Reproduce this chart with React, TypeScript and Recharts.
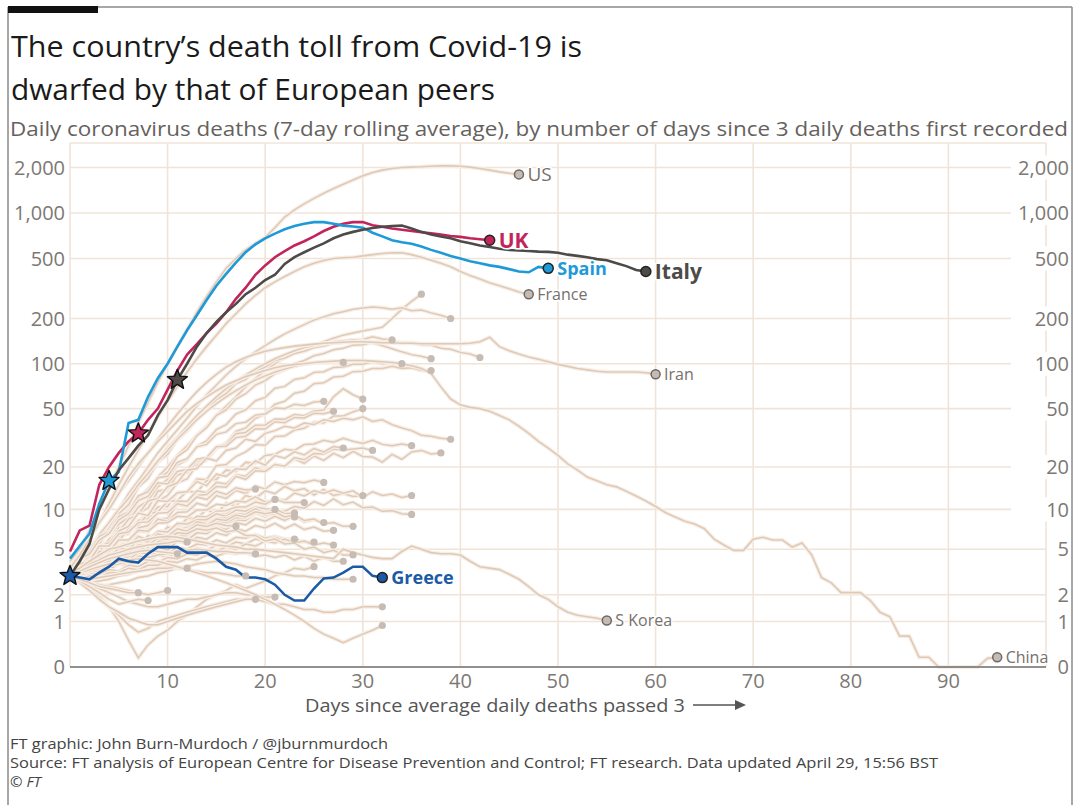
import React from 'react'
import { ComposedChart, Line, XAxis, YAxis, CartesianGrid } from 'recharts'

const W = 1074
const H = 805
const FONT = '"Open Sans", Lato, sans-serif'

const xTicks = [10, 20, 30, 40, 50, 60, 70, 80, 90]
const yTickValues = [0, 1, 2, 5, 10, 20, 50, 100, 200, 500, 1000, 2000]
const yTickLabels = ['0', '1', '2', '5', '10', '20', '50', '100', '200', '500', '1,000', '2,000']

// daily 7-day average deaths, index = days since average passed 3
const uk = [4.8, 7, 7.6, 15, 20, 25, 30, 34, 42, 50, 67, 90, 115, 135, 160, 185, 220, 270, 320, 390, 450, 510, 560, 610, 650, 700, 760, 810, 850, 870, 870, 830, 810, 790, 775, 760, 745, 735, 720, 705, 695, 680, 670, 660]
const spain = [4.2, 5.3, 6.6, 11, 16, 18.5, 40, 42, 60, 80, 100, 130, 167, 210, 265, 330, 395, 470, 550, 620, 680, 730, 780, 820, 850, 870, 870, 850, 825, 815, 800, 740, 700, 660, 640, 625, 600, 570, 545, 520, 500, 480, 465, 450, 440, 425, 410, 405, 440, 430]
const italy = [3, 4, 5.5, 10, 14, 19, 23, 28, 33, 45, 57, 78, 100, 130, 160, 190, 220, 250, 290, 320, 360, 390, 460, 510, 550, 590, 630, 680, 720, 750, 775, 795, 810, 820, 825, 790, 750, 720, 700, 680, 650, 630, 610, 595, 580, 570, 565, 560, 555, 553, 545, 530, 520, 510, 495, 487, 465, 445, 420, 410]
const greece = [3, 2.9, 2.8, 3.2, 3.6, 4.2, 4, 3.9, 4.6, 5.2, 5.2, 5.2, 4.7, 4.7, 4.7, 4.2, 3.6, 3.4, 2.9, 2.9, 2.8, 2.5, 2, 1.75, 1.75, 2.3, 2.85, 2.9, 3.2, 3.6, 3.6, 3, 2.9]

const us = [3.5, 5, 7, 10, 14, 20, 28, 40, 55, 75, 100, 130, 170, 220, 280, 350, 430, 500, 570, 630, 690, 800, 940, 1050, 1150, 1250, 1350, 1450, 1550, 1650, 1760, 1850, 1920, 1970, 2000, 2010, 2020, 2040, 2050, 2050, 2040, 2010, 1970, 1920, 1870, 1830, 1800]
const france = [3.5, 4.5, 6, 8, 11, 15, 20, 26, 34, 44, 56, 70, 88, 108, 130, 155, 185, 215, 250, 285, 320, 350, 380, 410, 440, 465, 485, 500, 505, 510, 520, 530, 540, 545, 545, 530, 510, 487, 465, 440, 410, 385, 365, 345, 330, 315, 300, 290]
const iran = [4, 5, 6, 8, 10, 13, 16, 20, 25, 31, 38, 46, 55, 65, 75, 85, 95, 103, 110, 116, 121, 125, 128, 131, 133, 135, 137, 138, 139, 140, 140, 139, 138, 138, 137, 137, 136, 136, 136, 136, 136, 137, 140, 150, 130, 122, 116, 111, 107, 103, 99, 96, 93, 91, 89, 88, 88, 88, 88, 87, 85]
const sKorea = [3.2, 3.5, 4, 4.5, 5, 5.2, 5.5, 5.8, 6, 6.2, 6.3, 6.2, 6, 5.8, 5.6, 5.4, 5.3, 5.2, 5, 5, 4.9, 4.8, 4.7, 4.6, 4.5, 4.4, 4.3, 4.2, 5, 4.7, 4.5, 4.3, 4.2, 4.2, 4.8, 5.3, 5, 4.7, 4.6, 4.6, 4.5, 4, 3.6, 3.5, 3.4, 3.1, 2.8, 2.4, 2, 1.8, 1.5, 1.3, 1.2, 1.15, 1.1, 1.03]
const china = [3.5, 4.5, 6, 8, 10, 13, 17, 21, 25, 30, 35, 41, 48, 54, 60, 66, 72, 77, 82, 86, 90, 94, 97, 99, 100, 102, 103, 104, 105, 105, 105, 104, 103, 102, 100, 97, 93, 86, 70, 58, 53, 51, 50, 48, 45, 42, 38, 34, 30, 27, 24, 21, 19, 17, 16, 15, 14.5, 13.5, 12.5, 11.5, 10.5, 9.5, 8.8, 8.2, 7.8, 7.2, 6, 5.4, 4.9, 4.9, 6, 6.2, 5.9, 5.9, 5.2, 5.6, 4.5, 2.9, 2.6, 2.1, 2.1, 2.1, 1.75, 1.3, 1.15, 0.6, 0.6, 0.16, 0.16, 0, 0, 0, 0, 0, 0.14, 0.16]

// unlabelled countries
const other01 = [3, 3.5, 4.5, 5.5, 7, 8, 10, 12, 14, 17, 20, 24, 28, 33, 38, 45, 52, 60, 70, 80, 90, 100, 110, 118, 125, 132, 140, 148, 155, 160, 165, 170, 175, 200, 230, 260, 290]
const other02 = [3, 4, 5, 6.5, 8, 10, 13, 16, 20, 25, 30, 36, 43, 52, 62, 72, 84, 96, 108, 120, 132, 145, 158, 170, 182, 195, 205, 215, 222, 230, 235, 238, 236, 230, 236, 225, 228, 218, 210, 200]
const other03 = [3, 3.6, 4.4, 6.2, 7.3, 9.3, 10.8, 14.4, 16.6, 21.6, 24.5, 30.8, 35.2, 43, 48, 57.5, 63, 73.5, 78.5, 89.5, 95, 105, 109, 117, 121, 128, 131, 137, 139, 144, 145, 151, 146, 144]
const other04 = [3, 4, 5, 6, 8, 10, 12, 15, 18, 22, 27, 32, 38, 45, 52, 60, 68, 76, 84, 92, 100, 108, 115, 122, 128, 132, 136, 140, 142, 144, 142, 138, 132, 126, 120, 115, 112, 108]
const other05 = [3, 3.6, 3.9, 5.2, 5.8, 7.8, 8.7, 11.4, 12.6, 16.5, 18.4, 23.6, 26.3, 32.8, 37.2, 45, 49, 58, 63, 72, 77, 86, 91, 100, 105, 113, 117, 124, 127, 133, 134, 139, 139, 141, 138, 138, 134, 133, 127, 125, 119, 116, 110]
const other06 = [3, 4, 5, 6.5, 8, 10, 12, 15, 18, 22, 26, 31, 36, 42, 48, 54, 60, 66, 72, 78, 83, 88, 92, 96, 99, 101, 103, 103, 102]
const other07 = [3, 3.6, 3.9, 5.2, 5.8, 7.2, 8.2, 10.4, 11.6, 14.5, 16.4, 20.6, 22.4, 27.8, 30.2, 36, 39, 46, 49, 56.5, 59.5, 68.5, 70.5, 78.5, 80.5, 87.5, 88.5, 94.5, 95, 99, 99, 103, 100, 101, 100]
const other08 = [3, 3.6, 3.9, 4.7, 4.8, 6.2, 6.8, 8.3, 9.2, 11.4, 12.6, 15.5, 16.5, 20.6, 22.4, 26.8, 29.2, 35, 37, 43, 46, 53.5, 56, 63.5, 65.5, 73.5, 74.5, 81.5, 82.5, 88.5, 89, 93, 93, 96, 93, 94, 90, 90]
const other09 = [3, 4.2, 4.8, 6.3, 6.8, 8.9, 9.6, 12.5, 13.4, 16.8, 17.2, 21.5, 22.8, 27.5, 28.6, 33.5, 34.8, 39.6, 40.5, 45.2, 46, 50.5, 50, 53.5, 52.5, 55.4, 56]
const other10 = [3, 3.6, 3.9, 5.2, 5.6, 7.3, 7.6, 9.4, 10.2, 13.5, 14, 17.6, 18.2, 21.8, 23, 27.5, 28.6, 33.8, 34.5, 38.6, 38.8, 42.5, 42.4, 45.6, 44.8, 48.2, 49, 60, 68, 62, 58]
const other11 = [3, 3.6, 3.8, 4.7, 5.2, 6.3, 6.6, 8.3, 8.6, 10.4, 10.5, 13.2, 13.4, 16.5, 16.3, 20.4, 20.8, 23.6, 25.4, 28.5, 28.2, 32.4, 32.6, 35.8, 36.8, 40.5, 40, 44.5, 44.6, 47.5, 50]
const other12 = [3, 4.2, 4.6, 5.9, 6.6, 8.4, 9.3, 11.6, 12.4, 15.5, 15.2, 18.6, 19.2, 22.6, 23.2, 27.6, 27.8, 31.8, 32.5, 36.6, 36.4, 40.8, 40.2, 43.6, 43.2, 46.5, 46.2, 48]
const other13 = [3, 3.5, 4.2, 4.8, 6, 6.8, 8.5, 9.2, 11.5, 12, 14.5, 15.5, 19, 19.5, 23, 22, 26, 27, 31, 30, 34, 35.5, 38, 37, 40, 39, 42, 41, 43, 42, 44, 41, 42, 39, 37, 35.5, 33, 32.5, 31.5, 31]
const other14 = [3, 3.2, 4.1, 4.4, 5.3, 5.8, 7.2, 7.6, 9.3, 9.6, 11.4, 11.6, 13.5, 13.3, 16, 16.4, 19, 18.6, 21.5, 21.2, 24, 24.5, 26.5, 26, 28.5, 28.8, 30.5, 29.6, 31.5, 30, 29, 30.5, 28.6, 28, 28.8, 28]
const other15 = [3, 3.6, 3.8, 4.7, 4.8, 5.8, 5.7, 7.3, 7.6, 9.4, 9.5, 11.5, 11.4, 13.6, 13.2, 15.6, 15.2, 17.6, 17.2, 19.8, 18.6, 20.8, 20.2, 22.8, 21.2, 23.8, 22.2, 24.8, 23.2, 25.6, 23.6, 23.4, 21.6, 24.4, 22.6, 25.4, 26, 24.6, 25]
const other16 = [3, 3.1, 3.4, 4.2, 4.3, 5.3, 5.7, 6.9, 7.1, 8.5, 8.6, 10.9, 10.5, 12.6, 12.8, 14.6, 14.4, 17.2, 16.4, 18.8, 18.6, 20.8, 20.2, 23.2, 22.4, 24.8, 24.6, 26.6, 26.2, 26.6, 27, 26]
const other17 = [3, 3.7, 3.8, 5.3, 5.6, 6.9, 7.5, 9.4, 9, 11.6, 11.4, 13.2, 13.4, 15.8, 14.8, 17.8, 17.2, 19.4, 19.2, 22, 20.6, 24, 23, 25.4, 24.2, 26.8, 25.4, 27.6, 27]
const other18 = [3, 3.7, 3.8, 4.8, 4.7, 5.9, 5.7, 6.9, 6.8, 8.5, 8.2, 9.5, 9.6, 11.1, 10.6, 12.6, 12, 13.7, 13, 14.7, 14, 15.7, 15, 15.8, 15.5, 16.2, 15.6]
const other19 = [3, 2.9, 3.7, 3.8, 4.3, 4.3, 5.3, 5.2, 6.4, 6.2, 7.4, 7.2, 8.6, 8.6, 10, 9.2, 11.1, 10.6, 12.6, 12, 13.6, 13, 14.6, 13.6, 14.1, 12.7, 13.9, 12.6, 13, 12.4, 12.6]
const other20 = [3, 3.2, 3.4, 3.8, 3.9, 4.7, 4.8, 5.3, 5.4, 6.3, 6.3, 7.3, 7.3, 8.4, 8.2, 9.4, 9.2, 10.5, 10.1, 11.5, 10.7, 12, 11.6, 13.1, 12.5, 13.6, 13.1, 13.8, 13.1, 13.6, 12.2, 13.4, 12.6, 12.9, 12.2, 12.6]
const other21 = [3, 3.1, 3.4, 3.7, 3.9, 4.2, 4.4, 5.2, 4.9, 5.8, 5.8, 6.3, 6.4, 7.3, 6.9, 7.8, 7.8, 8.4, 8.3, 9.4, 8.8, 9.9, 9.7, 10.5, 10.2, 11.4, 10.7, 11.9, 10.8, 11.3, 10.3, 10.4, 9.7, 9.8, 9.3, 9.2]
const other22 = [3, 3.7, 3.9, 4.8, 4.8, 5.9, 5.9, 7, 6.9, 7.9, 8, 8.9, 8.8, 9.9, 9.9, 10.9, 10.7, 11.5, 11.3, 12.3, 11.3, 11.8]
const other23 = [3, 3.3, 3.4, 4.2, 4.3, 5.2, 5, 5.9, 5.8, 6.8, 6.9, 7.7, 7.8, 8.9, 8.8, 9.7, 9.8, 10.4, 10.4, 11.3, 10.9, 11.9, 11.2, 11.2, 11.2]
const other24 = [3, 3.6, 3.7, 4.4, 4.4, 5.3, 5.2, 6.3, 5.9, 6.9, 6.8, 7.9, 7.8, 8.4, 8.4, 9.3, 8.9, 9.9, 9.7, 10.4, 10.1, 10]
const other25 = [3, 3.4, 3.5, 4.2, 4.2, 5, 4.9, 5.8, 5.6, 6.5, 6.3, 7.3, 7, 8.1, 7.8, 8.6, 8.6, 9.3, 9.2, 10.1, 9.4, 10.1, 9.3, 9.4]
const other26 = [3, 3.8, 4, 5.3, 5.3, 6.6, 6.8, 8, 8.1, 9.4, 9.5, 11, 10.6, 12.3, 11.8, 13.5, 12.8, 14.3, 13.8, 14]
const other27 = [3, 3.5, 3.4, 4.1, 4.1, 4.6, 4.6, 5.5, 5.2, 6.2, 6, 6.8, 6.8, 7.4, 7.3, 8.3, 8, 8.7, 8.7, 9.4, 9.1, 9.3, 9, 8.8]
const other28 = [3, 3.2, 3.3, 3.8, 3.8, 4.4, 4.3, 4.9, 4.8, 5.5, 5.3, 6.2, 5.9, 6.7, 6.6, 7.4, 7.1, 8, 7.7, 8.6, 8.2, 8.9, 8.3, 9, 8.1, 8.4, 8]
const other29 = [3, 3.4, 3.2, 3.8, 3.7, 4.2, 4.1, 4.7, 4.6, 5.3, 4.9, 5.8, 5.5, 6.2, 6, 6.7, 6.4, 7.2, 6.9, 7.6, 7.3, 7.9, 7.2, 7.8, 7.1, 7.4, 6.9, 7]
const other30 = [3, 3.5, 3.6, 4.2, 4.3, 4.8, 4.9, 5.6, 5.5, 6.3, 6.2, 6.9, 6.8, 7.6, 7.6, 8.5, 8.3, 9.1, 8.8, 9.6, 9.3, 9.6, 8.8, 9.1, 8.3, 8.5, 7.8, 8, 7.5, 7.5]
const other31 = [3, 3.6, 3.6, 4.3, 4.3, 5.1, 5, 5.9, 5.7, 6.6, 6.3, 7.2, 6.9, 7.7, 7.5, 7.9, 7.6, 7.5]
const other32 = [3, 3.2, 3.2, 3.7, 3.5, 4.1, 3.9, 4.4, 4.3, 4.8, 4.6, 5.2, 5, 5.5, 5.4, 5.9, 5.6, 6.2, 6.1, 6.5, 6.1, 6.3, 6, 6]
const other33 = [3, 3.1, 3.1, 3.4, 3.4, 3.8, 3.7, 4.2, 4, 4.5, 4.3, 4.8, 4.6, 5.1, 4.9, 5.4, 5.2, 5.7, 5.5, 6, 5.8, 6.2, 5.8, 6, 5.7, 5.7]
const other34 = [3, 2.8, 3.1, 3.1, 3.4, 3.3, 3.7, 3.6, 4, 3.9, 4.3, 4.2, 4.6, 4.5, 4.9, 4.8, 5.2, 5, 5.5, 5.3, 5.8, 5.6, 6, 5.6, 5.8, 5.4, 5.6, 5.4]
const other35 = [3, 3.3, 3.4, 3.9, 4, 4.7, 4.7, 5.4, 5.4, 6.1, 6, 6.7, 6.6, 7.2, 7, 7.3, 6.8, 7, 6.4, 6.4, 5.8, 6, 5.5, 5.6, 5, 5.2, 4.7, 4.9, 4.5, 4.5]
const other36 = [3, 2.8, 3, 2.9, 3.2, 3.2, 3.5, 3.4, 3.7, 3.7, 4, 3.9, 4.2, 4.1, 4.5, 4.4, 4.7, 4.6, 4.7, 4.4, 4.5, 4.3, 4.5, 4.1, 4.4, 4, 4.3, 4, 4]
const other37 = [3, 3.4, 3.8, 4.1, 4.5, 4.7, 5, 5.2, 5.4, 5.5, 5.6, 5.8, 5.7]
const other38 = [3, 3.2, 3.3, 3.5, 3.7, 3.8, 4, 4.1, 4.3, 4.5, 4.6, 4.8, 4.9, 5, 4.9, 4.8, 4.8, 4.7, 4.7, 4.6]
const other39 = [3, 2.8, 2.5, 2, 1.5, 1, 0.5, 0.15, 0.4, 0.6, 0.75, 1, 1.2, 1.5, 1.8, 2, 2.2, 2.5, 2.3, 2.5, 2.7, 3, 3.2, 3.5, 3.4, 3.6]
const other40 = [3, 2.7, 2.5, 2.4, 2.5, 2.6, 2.7, 2.9, 3, 3.2, 3.3, 3.5, 3.6, 3.8, 3.9, 4, 3.9, 3.8, 3.6, 3.5, 3.4, 3.2, 3.1, 3, 3, 2.9, 2.9, 2.8, 2.8, 2.8]
const other41 = [3, 2.8, 2.6, 2.7, 2.8, 3, 3.1, 3.3, 3.4, 3.5, 3.6, 3.5, 3.4, 3.3, 3.2, 3.2, 3.1, 3, 3]
const other42 = [3, 2.9, 2.8, 2.9, 3, 3.1, 3.2, 3.3, 3.4, 3.5, 3.5, 3.6, 3.5]
const other43 = [3, 2.8, 2.6, 2.5, 2.4, 2.3, 2.2, 2.1, 2, 2.1, 2.2]
const other44 = [3, 2.7, 2.3, 1.9, 1.5, 1.2, 0.9, 0.7, 0.8, 1, 1.1, 1.2, 1.3, 1.4, 1.5, 1.6, 1.7, 1.8, 1.8, 1.8]
const other45 = [3, 2.8, 2.5, 2.3, 2.1, 1.9, 1.7, 1.6, 1.5, 1.5, 1.6, 1.7, 1.8, 1.8, 1.9, 2, 2.1, 2.1, 2, 2, 1.9, 1.9]
const other46 = [3, 2.6, 2.2, 1.8, 1.5, 1.3, 1.1, 1, 0.9, 0.9, 1, 1.1, 1.2, 1.3, 1.4, 1.5, 1.6, 1.7, 1.8, 1.8, 1.7, 1.6, 1.6, 1.5, 1.4, 1.4, 1.3, 1.3, 1.4, 1.4, 1.5, 1.5, 1.5]
const other47 = [3, 3.2, 3.4, 3.6, 3.8, 4, 4.1, 4.2, 4.1, 4, 3.8, 3.6, 3.4, 3.2, 3, 2.8, 2.6, 2.4, 2.2, 2, 1.8, 1.6, 1.4, 1.2, 1, 0.8, 0.65, 0.55, 0.45, 0.55, 0.65, 0.75, 0.88]
const other48 = [3, 2.7, 2.4, 2.1, 1.8, 1.6, 1.7, 1.8, 1.75]
const other49 = [3, 2.8, 2.6, 2.4, 2.3, 2.2, 2.1, 2.1]
const other50 = [3, 3.3, 3.6, 3.9, 4.2, 4.4, 4.6, 4.8, 4.9, 4.8, 4.7, 4.6]

const others = [
  other01, other02, other03, other04, other05, other06, other07, other08, other09, other10,
  other11, other12, other13, other14, other15, other16, other17, other18, other19, other20,
  other21, other22, other23, other24, other25, other26, other27, other28, other29, other30,
  other31, other32, other33, other34, other35, other36, other37, other38, other39, other40,
  other41, other42, other43, other44, other45, other46, other47, other48, other49, other50,
]

const BEIGE = '#dfcab8'
const HALO = '#f7eee6'
const GRID = '#f0e4d9'
const TICK = '#7d7874'

const toY = (v: number) => Math.log10(v + 1)
const toPoints = (vals: number[]) => vals.map((v, i) => ({ day: i, y: toY(v) }))

const starPoints = (cx: number, cy: number, ro: number, ri: number) => {
  const pts: string[] = []
  for (let k = 0; k < 10; k++) {
    const r = k % 2 === 0 ? ro : ri
    const a = -Math.PI / 2 + (k * Math.PI) / 5
    pts.push(`${cx + r * Math.cos(a)},${cy + r * Math.sin(a)}`)
  }
  return pts.join(' ')
}

type Mark = {
  star?: number
  starFill?: string
  label?: string
  color?: string
  size?: number
  bold?: boolean
  dotFill: string
  dotStroke?: string
  r: number
}

const noDot = () => <g />

const makeDot = (name: string, len: number, m: Mark) => (p: any) => {
  const { cx, cy, index } = p
  const key = `${name}-${index}`
  if (cx == null || cy == null || (index !== len - 1 && index !== m.star)) return <g key={key} />
  return (
    <g key={key}>
      {index === m.star && (
        <polygon
          points={starPoints(cx, cy, 10.5, 4.6)}
          fill={m.starFill}
          stroke="#111"
          strokeWidth={1.4}
          strokeLinejoin="round"
        />
      )}
      {index === len - 1 && (
        <circle cx={cx} cy={cy} r={m.r} fill={m.dotFill} stroke={m.dotStroke ?? 'none'} strokeWidth={1.5} />
      )}
      {index === len - 1 && m.label && (
        <text
          x={cx + m.r + 4}
          y={cy}
          dy="0.36em"
          fontFamily={FONT}
          fontSize={m.size}
          fontWeight={m.bold ? 700 : 400}
          fill={m.color}
          stroke="#fff"
          strokeWidth={3}
          paintOrder="stroke"
        >
          {m.label}
        </text>
      )}
    </g>
  )
}

const YTick = (props: any) => {
  const { y, payload } = props
  const i = yTickValues.findIndex((t) => Math.abs(toY(t) - payload.value) < 1e-6)
  const label = yTickLabels[i] ?? ''
  return (
    <g>
      <text x={65} y={y} dy="0.36em" textAnchor="end" fontFamily={FONT} fontSize={20} fill={TICK}>
        {label}
      </text>
      <rect x={label.length > 1 ? 1011 : 1050} y={y - 12} width={70} height={24} fill="#fff" />
      <text x={1069} y={y} dy="0.36em" textAnchor="end" fontFamily={FONT} fontSize={20} fill={TICK}>
        {label}
      </text>
    </g>
  )
}

const XTick = (props: any) => {
  const { x, payload } = props
  return (
    <text x={x} y={688} textAnchor="middle" fontFamily={FONT} fontSize={20} fill={TICK}>
      {payload.value}
    </text>
  )
}

const labelled = [
  { name: 'US', vals: us, size: 19 },
  { name: 'France', vals: france, size: 16 },
  { name: 'Iran', vals: iran, size: 16 },
  { name: 'S Korea', vals: sKorea, size: 16 },
  { name: 'China', vals: china, size: 16 },
]

const highlighted = [
  { name: 'UK', vals: uk, color: '#c2255c', star: 7, size: 21 },
  { name: 'Spain', vals: spain, color: '#1f9ad8', star: 4, size: 18 },
  { name: 'Italy', vals: italy, color: '#4d4a47', star: 11, size: 21 },
  { name: 'Greece', vals: greece, color: '#1b5aa5', star: 0, size: 18 },
]

export default function App() {
  return (
    <div style={{ position: 'absolute', left: 0, top: 0, width: W, height: H, background: '#fff', overflow: 'hidden' }}>
      <ComposedChart width={W} height={H} margin={{ top: 143, right: 28, bottom: 108, left: 0 }}>
        <CartesianGrid stroke={GRID} strokeWidth={1.6} />
        <XAxis
          dataKey="day"
          type="number"
          domain={[0, 100]}
          ticks={xTicks}
          height={30}
          tickLine={false}
          axisLine={{ stroke: '#727272', strokeWidth: 1.6 }}
          tick={<XTick />}
        />
        <YAxis
          type="number"
          domain={[0, 3.463]}
          ticks={yTickValues.map(toY)}
          width={70}
          axisLine={false}
          tickLine={false}
          tick={<YTick />}
        />
        {others.flatMap((vals, i) => [
          <Line
            key={`h${i}`}
            data={toPoints(vals)}
            dataKey="y"
            type="linear"
            stroke={HALO}
            strokeWidth={4}
            dot={noDot}
            activeDot={false}
            isAnimationActive={false}
          />,
          <Line
            key={`o${i}`}
            data={toPoints(vals)}
            dataKey="y"
            type="linear"
            stroke={BEIGE}
            strokeWidth={1.5}
            dot={makeDot(`o${i}`, vals.length, { dotFill: '#c6bcb4', r: 3.6 })}
            activeDot={false}
            isAnimationActive={false}
          />,
        ])}
        {labelled.flatMap((s) => [
          <Line
            key={`h${s.name}`}
            data={toPoints(s.vals)}
            dataKey="y"
            type="linear"
            stroke={HALO}
            strokeWidth={4}
            dot={noDot}
            activeDot={false}
            isAnimationActive={false}
          />,
          <Line
            key={s.name}
            data={toPoints(s.vals)}
            dataKey="y"
            type="linear"
            stroke={BEIGE}
            strokeWidth={1.6}
            dot={makeDot(s.name, s.vals.length, {
              dotFill: '#c4bbb4',
              dotStroke: '#6f6863',
              r: 4.5,
              label: s.name,
              color: '#77706b',
              size: s.size,
            })}
            activeDot={false}
            isAnimationActive={false}
          />,
        ])}
        {highlighted.map((s) => (
          <Line
            key={s.name}
            data={toPoints(s.vals)}
            dataKey="y"
            type="linear"
            stroke={s.color}
            strokeWidth={2.6}
            dot={makeDot(s.name, s.vals.length, {
              star: s.star,
              starFill: s.color,
              dotFill: s.color,
              dotStroke: '#222',
              r: 5,
              label: s.name,
              color: s.color,
              size: s.size,
              bold: true,
            })}
            activeDot={false}
            isAnimationActive={false}
          />
        ))}
      </ComposedChart>

      <svg width={W} height={H} style={{ position: 'absolute', left: 0, top: 0, pointerEvents: 'none' }}>
        <line x1={8} y1={7} x2={1072} y2={7} stroke="#8a8a8a" strokeWidth={1.5} />
        <line x1={8} y1={7} x2={8} y2={H} stroke="#8a8a8a" strokeWidth={1.5} />
        <line x1={1072} y1={7} x2={1072} y2={H} stroke="#8a8a8a" strokeWidth={1.5} />
        <rect x={8} y={6} width={90} height={7} fill="#111" />
        <text x={11} y={57} fontFamily={FONT} fontSize={29} fill="#1a1a1a" textLength={571} lengthAdjust="spacingAndGlyphs">
          The country’s death toll from Covid-19 is
        </text>
        <text x={11} y={100} fontFamily={FONT} fontSize={29} fill="#1a1a1a" textLength={484} lengthAdjust="spacingAndGlyphs">
          dwarfed by that of European peers
        </text>
        <text x={10} y={136} fontFamily={FONT} fontSize={19.5} fill="#66615d" textLength={1058} lengthAdjust="spacingAndGlyphs">
          Daily coronavirus deaths (7-day rolling average), by number of days since 3 daily deaths first recorded
        </text>
        <text x={305} y={712} fontFamily={FONT} fontSize={19} fill="#555" textLength={380} lengthAdjust="spacingAndGlyphs">
          Days since average daily deaths passed 3
        </text>
        <line x1={693} y1={705} x2={738} y2={705} stroke="#555" strokeWidth={1.5} />
        <polygon points="735,700 746,705 735,710" fill="#555" />
        <text x={10} y={749} fontFamily={FONT} fontSize={15} fill="#444" textLength={378} lengthAdjust="spacingAndGlyphs">
          FT graphic: John Burn-Murdoch / @jburnmurdoch
        </text>
        <text x={10} y={768} fontFamily={FONT} fontSize={15} fill="#444" textLength={928} lengthAdjust="spacingAndGlyphs">
          Source: FT analysis of European Centre for Disease Prevention and Control; FT research. Data updated April 29, 15:56 BST
        </text>
        <text x={10} y={787} fontFamily={FONT} fontSize={15} fill="#444" fontStyle="italic">
          © FT
        </text>
      </svg>
    </div>
  )
}
